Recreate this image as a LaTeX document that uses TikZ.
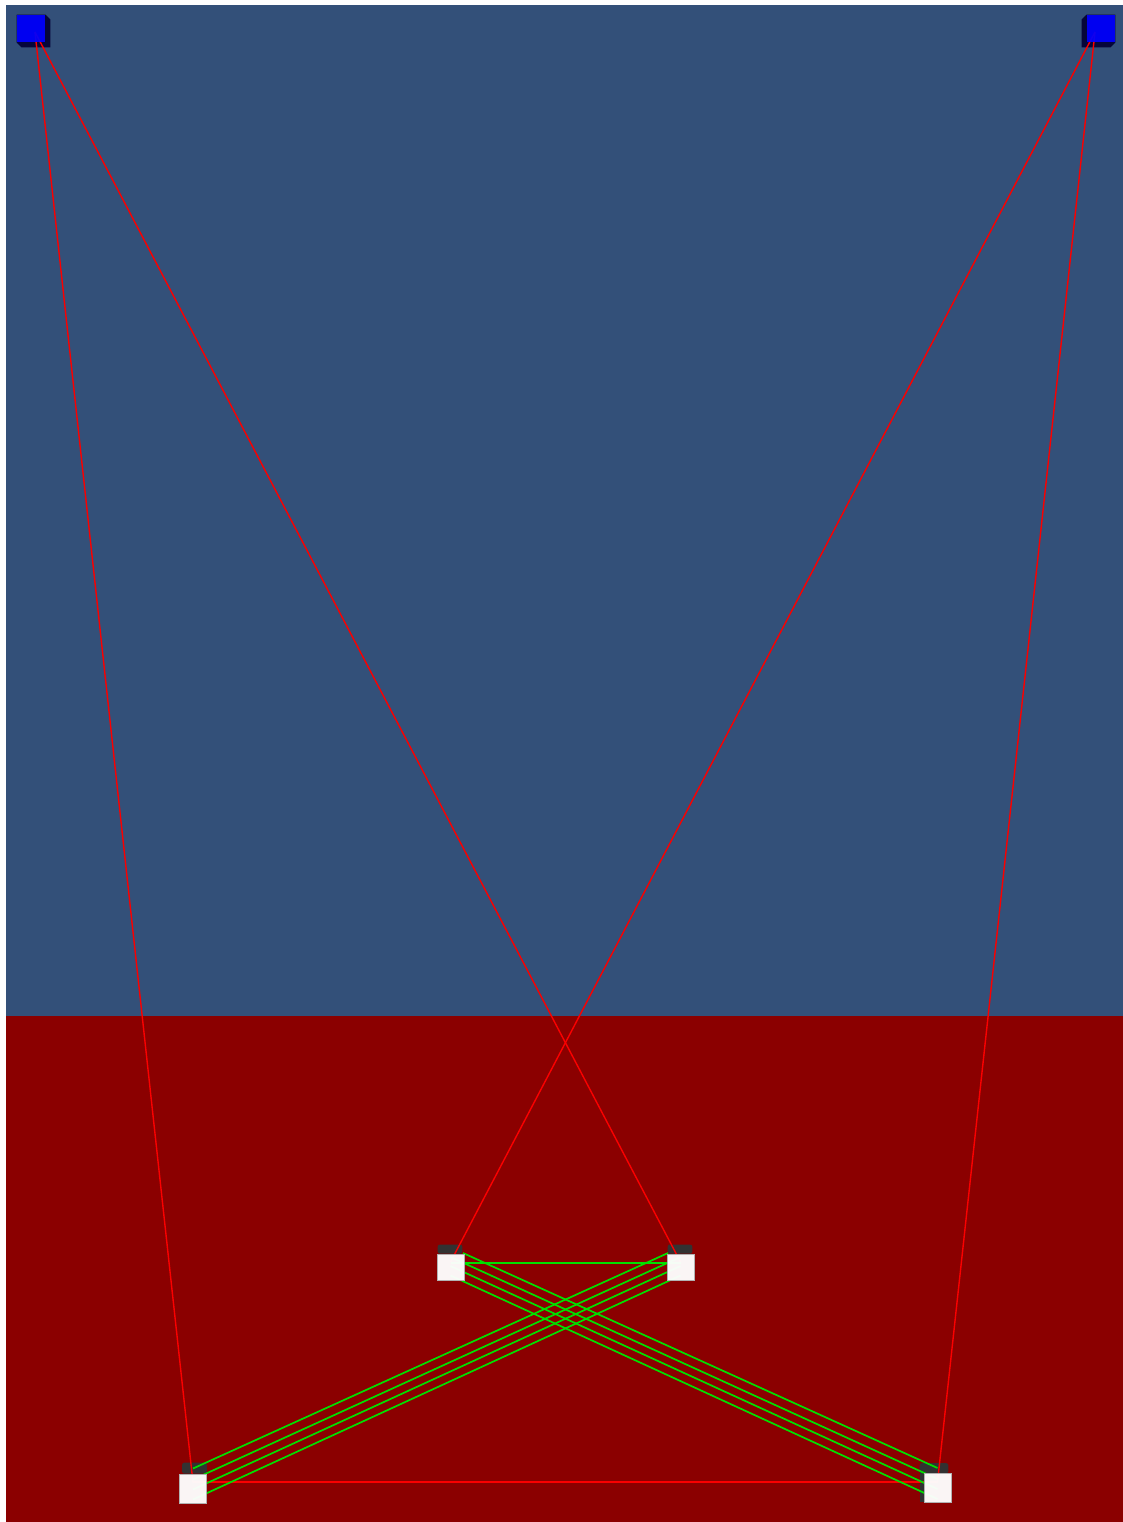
\documentclass[tikz,border=0pt]{standalone}
\pgfdeclarelayer{back}\pgfdeclarelayer{wires}\pgfsetlayers{back,wires,main}
\definecolor{skyblue}{RGB}{51,80,121}\definecolor{floorred}{RGB}{139,0,0}
\definecolor{wirered}{RGB}{250,0,0}\definecolor{wiregreen}{RGB}{0,225,0}
\definecolor{darknavy}{RGB}{6,6,58}\definecolor{capgray}{RGB}{50,50,50}
\begin{document}
\begin{tikzpicture}[x=.5pt,y=-.5pt,
 lamp/.style={fill=blue,fill opacity=.93,minimum width=14pt,minimum height=13.5pt,inner sep=0pt},
 box/.style={fill=white,fill opacity=.96,draw=gray!60,line width=.3pt,minimum width=13.5pt,minimum height=13pt,inner sep=0pt},
 tallbox/.style={box,minimum height=14.5pt},
 rw/.style={wirered,line width=.7pt},gw/.style={wiregreen,line width=.85pt}]
\useasboundingbox(0,0)rectangle(1123,1522);
\node[lamp](tl)at(31,28.5){};\node[lamp](tr)at(1101,28.5){};
\node[box](ml)at(450.5,1267){};\node[box](mr)at(680.5,1267){};
\node[tallbox](bl)at(193,1488.5){};\node[tallbox](br)at(937.5,1488){};
\begin{pgfonlayer}{back}
\fill[skyblue](6,5)rectangle(1123,1016);\fill[floorred](6,1016)rectangle(1123,1522);
% dark sides of the two lamps
\fill[darknavy](tl.north west)--(tl.north east)--([shift={(5,5)}]tl.north east)--([shift={(5,5)}]tl.south east)--([shift={(5,5)}]tl.south west)--(tl.south west)--cycle;
\fill[darknavy](tr.north east)--(tr.north west)--([shift={(-5,5)}]tr.north west)--([shift={(-5,5)}]tr.south west)--([shift={(-5,5)}]tr.south east)--(tr.south east)--cycle;
% tops of the boxes
\fill[capgray,rounded corners=1pt]([shift={(1,0)}]ml.north west)rectangle([shift={(-2,-9)}]ml.north east);
\fill[capgray,rounded corners=1pt]([shift={(1,0)}]mr.north west)rectangle([shift={(-2,-9)}]mr.north east);
\fill[capgray,rounded corners=1pt]([shift={(3,0)}]bl.north west)rectangle([shift={(0,-11)}]bl.north east);
\fill[capgray,rounded corners=1pt]([shift={(-4,0)}]br.north west)rectangle([shift={(-3,-10)}]br.north east);
\fill[capgray]([shift={(-4,-1)}]br.north west)rectangle([shift={(0,-1)}]br.south west);
\end{pgfonlayer}
\begin{pgfonlayer}{wires}
\draw[rw]([shift={(4,3.5)}]tl.center)--([shift={(0,-6)}]bl.center);
\draw[rw]([shift={(4,3.5)}]tl.center)--([shift={(0,-5)}]mr.center);
\draw[rw]([shift={(-6,3.5)}]tr.center)--([shift={(0,-5)}]ml.center);
\draw[rw]([shift={(-6,3.5)}]tr.center)--([shift={(0,-6)}]br.center);
\draw[rw]([shift={(0,-6.5)}]bl.center)--([shift={(0,-6)}]br.center);
\draw[gw]([shift={(0,-4)}]ml.center)--([shift={(0,-4)}]mr.center);
\foreach \a/\b/\c in {12.5/-14/-20,0/-10/-9,0/-1/1,0/8.5/11}{
 \draw[gw]([shift={(\a,\b)}]ml.center)--([shift={(0,\c)}]br.center);
 \draw[gw]([shift={(-\a,\b)}]mr.center)--([shift={(0,\c)}]bl.center);}
\end{pgfonlayer}
\end{tikzpicture}
\end{document}
